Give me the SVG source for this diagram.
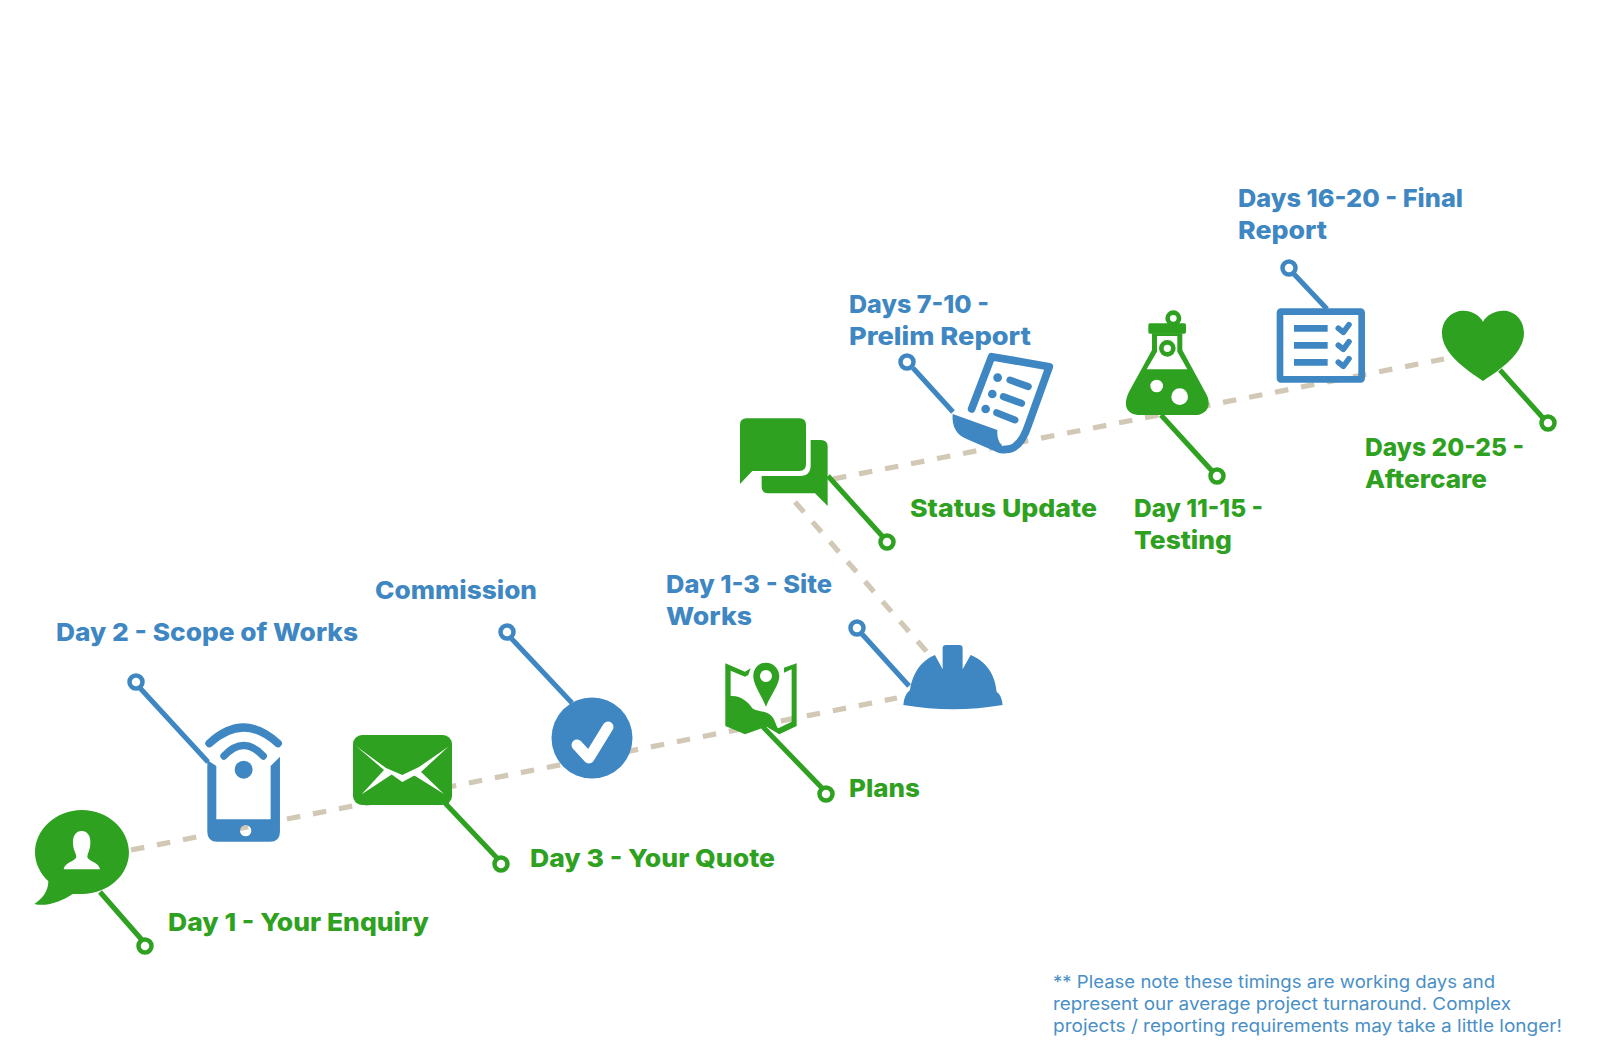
<svg xmlns="http://www.w3.org/2000/svg" width="1600" height="1050" viewBox="0 0 1600 1050">
<style>
.g{fill:#2fa121}.b{fill:#3f87c2}.w{fill:#fff}
.t{font-family:"Inter","Liberation Sans",sans-serif;font-weight:800;font-size:25px}
.n{font-family:"Inter","Liberation Sans",sans-serif;font-weight:400;font-size:17.5px;fill:#4a8fc6}
.dash{fill:none;stroke:#d2c8b6;stroke-width:5.2;stroke-dasharray:13.5 13}
.lg{stroke:#2fa121;stroke-width:5;fill:none}.lb{stroke:#3f87c2;stroke-width:5;fill:none}
.rg{stroke:#2fa121;stroke-width:4.5;fill:#fff}.rb{stroke:#3f87c2;stroke-width:4.5;fill:#fff}
</style>
<rect width="1600" height="1050" fill="#fff"/>
<g id="connectors">
<path class="dash" d="M131 850L897 698"/>
<path class="dash" d="M833 479L1444 359"/>
<path class="dash" d="M795 502L927 652"/>
<path class="lg" d="M100 892L142 940"/><circle class="rg" cx="145" cy="946" r="6.500"/>
<path class="lb" d="M140 688L208 762"/><circle class="rb" cx="136" cy="682" r="6.500"/>
<path class="lg" d="M445 803L497 858"/><circle class="rg" cx="501" cy="864" r="6.500"/>
<path class="lb" d="M510 637L572 703"/><circle class="rb" cx="507" cy="632" r="6.500"/>
<path class="lg" d="M763 727L822 788"/><circle class="rg" cx="826" cy="794" r="6.500"/>
<path class="lb" d="M862 634L909 686"/><circle class="rb" cx="857" cy="628" r="6.500"/>
<path class="lg" d="M828 476L883 537"/><circle class="rg" cx="887" cy="542" r="6.500"/>
<path class="lb" d="M913 368L953 412"/><circle class="rb" cx="907" cy="362" r="6.500"/>
<path class="lg" d="M1161 415L1213 472"/><circle class="rg" cx="1217" cy="476" r="6.500"/>
<path class="lb" d="M1293 273L1327 309"/><circle class="rb" cx="1289" cy="268" r="6.500"/>
<path class="lg" d="M1500 370L1543 418"/><circle class="rg" cx="1548" cy="423" r="6.500"/>
</g>
<g id="node-enquiry">
<g transform="translate(0 660) scale(.3333)">
<path class="g" d="M246 450C325 450 387 510 387 577C387 645 325 702 246 702L218 702C190 722 140 742 103 732C125 718 145 695 145 664C120 640 105 610 105 577C105 510 167 450 246 450Z"/>
<path class="w" d="M245 513C262 513 273 527 271 552C270 572 262 580 262 592C268 606 296 606 300 628L191 628C195 606 223 606 229 592C229 580 220 572 219 552C217 527 228 513 245 513Z"/>
</g>
<text class="t g" x="168" y="931" textLength="261" lengthAdjust="spacingAndGlyphs">Day 1 - Your Enquiry</text>
</g>
<g id="node-scope">
<g transform="translate(0 660) scale(.3333)">
<path class="b" d="M622 300L649 318L649 478L812 478L812 318L840 290L840 515Q840 545 810 545L652 545Q622 545 622 515ZM737 495A17 17 0 1 0 737.100 529A17 17 0 1 0 737 495Z" fill-rule="evenodd"/>
<circle class="b" cx="731" cy="329" r="27"/>
<path d="M628 250Q731 155 834 250" fill="none" stroke="#3f87c2" stroke-width="24" stroke-linecap="round"/>
<path d="M672 288Q731 225 790 288" fill="none" stroke="#3f87c2" stroke-width="22" stroke-linecap="round"/>
</g>
<text class="t b" x="56" y="641" textLength="302" lengthAdjust="spacingAndGlyphs">Day 2 - Scope of Works</text>
</g>
<g id="node-quote">
<rect class="g" x="353" y="735" width="99" height="70" rx="9"/>
<path class="w" d="M356 746L386 768L402.300 775L419 767L448.300 746.700L421 772L402.300 782L391.700 774.500L361.700 794.300L384 770Z"/>
<path class="w" d="M444 794L412 774L418 769Z"/>
<text class="t g" x="530" y="867" textLength="245" lengthAdjust="spacingAndGlyphs">Day 3 - Your Quote</text>
</g>
<g id="node-commission">
<circle class="b" cx="592" cy="738" r="40.500"/>
<path d="M577 745L589 758L608 727" fill="none" stroke="#fff" stroke-width="11" stroke-linecap="round" stroke-linejoin="round"/>
<text class="t b" x="375" y="599" textLength="162" lengthAdjust="spacingAndGlyphs">Commission</text>
</g>
<g id="node-plans">
<g transform="translate(500 620) scale(.3333)">
<path class="g" d="M676 130L735 155L752 145L745 165L735 170L692 152L692 228C720 225 745 245 757 265C775 278 805 270 820 295C828 310 830 322 835 325L875 305L875 148L852 158L852 143L890 130L890 318L838 343L800 320L735 343L676 318Z"/>
<path class="g" fill-rule="evenodd" d="M798 128C820 128 838 146 838 168C838 195 812 225 798 260C784 225 760 195 760 168C760 146 776 128 798 128ZM798 150A18 18 0 1 0 798.100 186A18 18 0 1 0 798 150Z"/>
</g>
<text class="t g" x="849" y="797" textLength="71" lengthAdjust="spacingAndGlyphs">Plans</text>
</g>
<g id="node-siteworks">
<path class="b" transform="translate(500 620) scale(.3333)" d="M1230 210C1240 150 1270 120 1305 105L1328 148L1328 85Q1328 75 1338 75L1378 75Q1388 75 1388 85L1388 148L1412 105C1450 120 1485 155 1490 215Q1505 225 1508 255Q1360 280 1210 255Q1212 225 1230 210Z"/>
<text class="t b" x="666" y="593" textLength="166" lengthAdjust="spacingAndGlyphs">Day 1-3 - Site</text>
<text class="t b" x="666" y="625" textLength="86" lengthAdjust="spacingAndGlyphs">Works</text>
</g>
<g id="node-status">
<g transform="translate(720 340) scale(.3333)">
<path class="g" d="M80 235L238 235Q258 235 258 255L258 373Q258 393 238 393L97 393L60 432L60 255Q60 235 80 235Z"/>
<path class="g" d="M272 300L303 300Q323 300 323 320L323 498L285 460L145 460Q125 460 125 440L125 408L240 408Q272 408 272 375Z"/>
</g>
<text class="t g" x="910" y="517" textLength="187" lengthAdjust="spacingAndGlyphs">Status Update</text>
</g>
<g id="node-prelim">
<g transform="translate(720 340) scale(.3333)">
<path d="M755 207L815 50L988 80L925 255C905 315 880 330 855 328" fill="none" stroke="#3f87c2" stroke-width="23" stroke-linecap="round" stroke-linejoin="round"/>
<path class="b" d="M698 222L832 270C830 300 842 322 870 335C850 344 835 340 825 334L740 297C710 285 695 260 698 222Z"/>
<circle class="b" cx="833" cy="113" r="13"/><circle class="b" cx="817" cy="162" r="13"/><circle class="b" cx="797" cy="207" r="13"/>
<path d="M870 120L925 140M850 170L905 190M830 218L885 240" fill="none" stroke="#3f87c2" stroke-width="21" stroke-linecap="round"/>
</g>
<text class="t b" x="849" y="313" textLength="140" lengthAdjust="spacingAndGlyphs">Days 7-10 -</text>
<text class="t b" x="849" y="345" textLength="182" lengthAdjust="spacingAndGlyphs">Prelim Report</text>
</g>
<g id="node-testing">
<g transform="translate(1110 300) scale(.3333)">
<path class="g" fill-rule="evenodd" d="M126 100L126 150L60 270C35 315 50 345 90 345L255 345C290 345 310 315 285 275L217 150L217 100ZM141 108L202 108L202 155L232 208L110 208L141 155Z"/>
<circle class="w" cx="140" cy="258" r="19"/><circle class="w" cx="209" cy="290" r="25"/>
<rect class="g" x="115" y="70" width="113" height="31" rx="5"/>
<circle cx="190" cy="55" r="17" fill="none" stroke="#2fa121" stroke-width="14"/>
<circle cx="172" cy="145" r="18" fill="none" stroke="#2fa121" stroke-width="14"/>
</g>
<text class="t g" x="1134" y="517" textLength="129" lengthAdjust="spacingAndGlyphs">Day 11-15 -</text>
<text class="t g" x="1134" y="549" textLength="98" lengthAdjust="spacingAndGlyphs">Testing</text>
</g>
<g id="node-final">
<g transform="translate(1240 250) scale(.3333)">
<rect x="120" y="185" width="245" height="203" rx="3" fill="none" stroke="#3f87c2" stroke-width="20"/>
<path class="b" d="M162 225H263V245H162ZM162 276H263V296H162ZM162 327H263V347H162Z"/>
<path d="M295 235L310 247L327 224M295 286L310 298L327 275M295 337L310 349L327 326" fill="none" stroke="#3f87c2" stroke-width="17" stroke-linecap="round" stroke-linejoin="round"/>
</g>
<text class="t b" x="1238" y="207" textLength="225" lengthAdjust="spacingAndGlyphs">Days 16-20 - Final</text>
<text class="t b" x="1238" y="239" textLength="89" lengthAdjust="spacingAndGlyphs">Report</text>
</g>
<g id="node-aftercare">
<path class="g" transform="translate(1240 250) scale(.3333)" d="M729 393C680 360 606 310 606 250C606 205 640 182 670 182C695 182 718 195 729 215C740 195 765 182 790 182C820 182 852 205 852 250C852 310 780 360 729 393Z"/>
<text class="t g" x="1365" y="456" textLength="159" lengthAdjust="spacingAndGlyphs">Days 20-25 -</text>
<text class="t g" x="1365" y="488" textLength="122" lengthAdjust="spacingAndGlyphs">Aftercare</text>
</g>
<g id="note">
<text class="n" x="1053" y="988" textLength="442" lengthAdjust="spacingAndGlyphs">** Please note these timings are working days and</text>
<text class="n" x="1053" y="1010" textLength="458" lengthAdjust="spacingAndGlyphs">represent our average project turnaround. Complex</text>
<text class="n" x="1053" y="1032" textLength="509" lengthAdjust="spacingAndGlyphs">projects / reporting requirements may take a little longer!</text>
</g>
</svg>
